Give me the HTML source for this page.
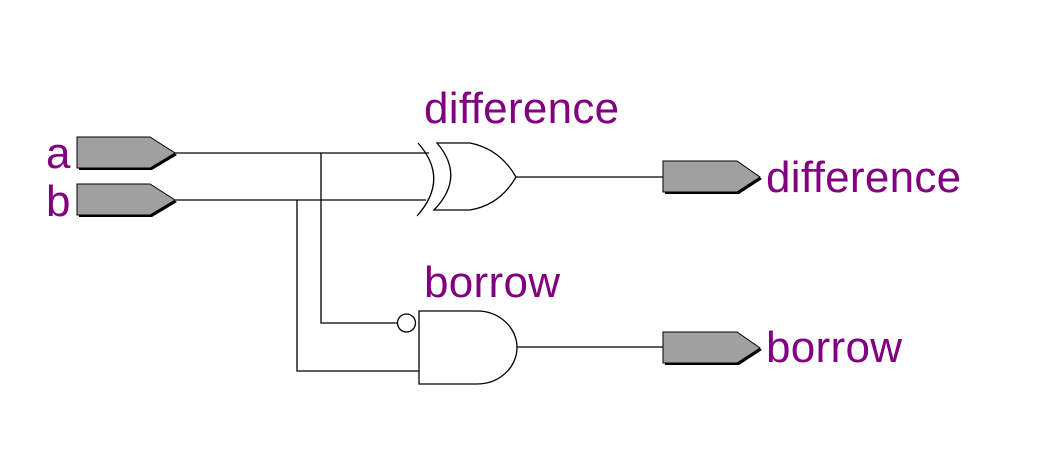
<!DOCTYPE html>
<html><head><meta charset="utf-8"><style>
html,body{margin:0;padding:0;background:#fff;}
svg{display:block;}
text{font-family:"Liberation Sans",Arial,sans-serif;font-size:44px;fill:#800080;font-variant-ligatures:none;letter-spacing:0.3px;}
</style></head><body>
<svg width="1037" height="451" viewBox="0 0 1037 451" xmlns="http://www.w3.org/2000/svg">
<g stroke="#000" stroke-width="1.3" fill="none">
<line x1="175" y1="153" x2="429" y2="153"/>
<line x1="175" y1="200" x2="426" y2="200"/>
<polyline points="321,153 321,323 397,323"/>
<polyline points="297,200 297,371 419,371"/>
<line x1="516" y1="177" x2="663" y2="177"/>
<line x1="517" y1="347" x2="663" y2="347"/>
<path d="M418,143 Q450,179 417,216"/>
<path d="M437,143 Q466,177 434,210 L470,210 Q500,205 516,177 Q500,149 470,143 Z"/>
<path d="M419,311 L477,311 A40,36.5 0 0 1 477,384 L419,384 Z"/>
<circle cx="406.5" cy="323" r="9"/>
</g>
<g>
<polygon points="79,139 152,139 177,155 152,170 79,170" fill="#000"/>
<polygon points="77,137 150,137 175,153 150,168 77,168" fill="#a0a0a0" stroke="#000" stroke-width="1"/>
<polygon points="79,186 152,186 177,202 152,217 79,217" fill="#000"/>
<polygon points="77,184 150,184 175,200 150,215 77,215" fill="#a0a0a0" stroke="#000" stroke-width="1"/>
<polygon points="665,163 739,163 762,179 739,194 665,194" fill="#000"/>
<polygon points="663,161 737,161 760,177 737,192 663,192" fill="#a0a0a0" stroke="#000" stroke-width="1"/>
<polygon points="665,334 739,334 762,350 739,365 665,365" fill="#000"/>
<polygon points="663,332 737,332 760,348 737,363 663,363" fill="#a0a0a0" stroke="#000" stroke-width="1"/>
</g>
<text x="46" y="168">a</text>
<text x="46" y="216">b</text>
<text x="424" y="123">difference</text>
<text x="766" y="192">difference</text>
<text x="424" y="297">borrow</text>
<text x="766" y="362">borrow</text>
</svg>
</body></html>
